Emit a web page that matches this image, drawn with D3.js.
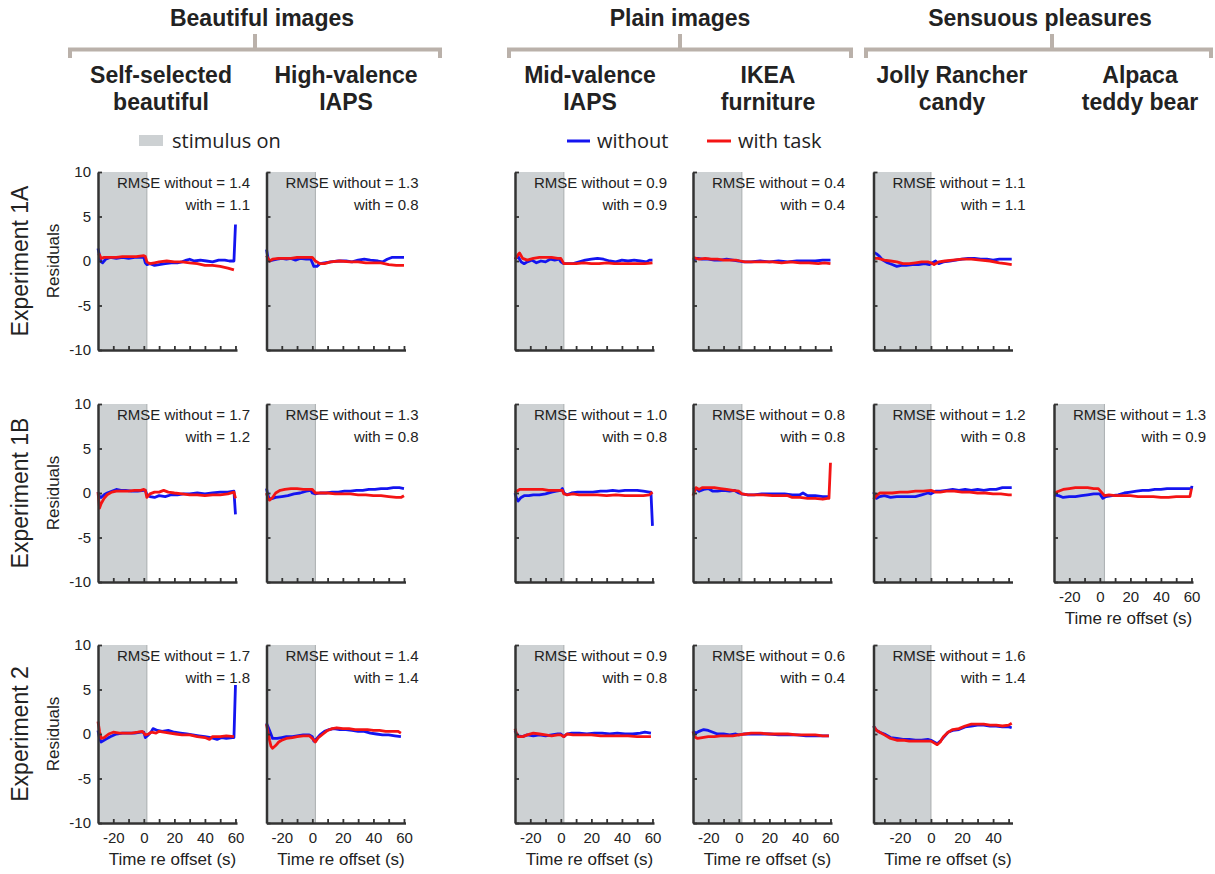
<!DOCTYPE html>
<html>
<head>
<meta charset="utf-8">
<script src="https://cdn.jsdelivr.net/npm/d3@7"></script>
<style>
  body { margin: 0; background: #fff; }
  svg { display: block; }
  text { font-family: "Liberation Sans", Arial, sans-serif; fill: #222; }
</style>
</head>
<body>
<svg id="chart" width="1215" height="874"></svg>
<script>
// Group and column labels
const groups = ["Beautiful images", "Plain images", "Sensuous pleasures"];
const columns = [
    ["Self-selected", "beautiful"],
    ["High-valence", "IAPS"],
    ["Mid-valence", "IAPS"],
    ["IKEA", "furniture"],
    ["Jolly Rancher", "candy"],
    ["Alpaca", "teddy bear"]
];
const experiments = ["Experiment 1A", "Experiment 1B", "Experiment 2"];

// Axis values
const yTicks = [-10, -5, 0, 5, 10];
const imageDomain = [-30, 61];
const candyDomain = [-37, 52.5];
const imageTickLabels = [-20, 0, 20, 40, 60];
const candyTickLabels = [-20, 0, 20, 40];
const stimulusEnd = [2, 2, 2, 2, 0, 3];   // end of the grey "stimulus on" band per column (s)

// RMSE values (row = experiment, col = stimulus type)
const rmseWithout = [[1.4, 1.3, 0.9, 0.4, 1.1, null], [1.7, 1.3, 1.0, 0.8, 1.2, 1.3], [1.7, 1.4, 0.9, 0.6, 1.6, null]];
const rmseWith    = [[1.1, 0.8, 0.9, 0.4, 1.1, null], [1.2, 0.8, 0.8, 0.8, 0.8, 0.9], [1.8, 1.4, 0.8, 0.4, 1.4, null]];

// Residual traces: [time re offset (s), residual]
// Experiment 1A
const e1a_self_without = [[-30,1.4],[-29,0.6],[-28,-0.1],[-27,-0.2],[-25,0.2],[-22,0.4],[-18,0.3],[-14,0.4],[-10,0.3],[-6,0.4],[-2,0.4],[0,0.4],[1,-0.2],[2,-0.4],[4,-0.3],[7,-0.5],[10,-0.4],[14,-0.3],[18,-0.2],[22,-0.2],[25,-0.1],[28,0.1],[30,0.2],[33,0.0],[37,0.1],[41,0.0],[45,-0.1],[49,0.1],[53,0.1],[56,0.0],[59,0.0],[60,4.1]];
const e1a_self_with = [[-30,0.8],[-29,0.7],[-28,0.3],[-26,0.4],[-22,0.4],[-18,0.4],[-14,0.5],[-10,0.5],[-5,0.5],[0,0.6],[1,0.5],[2,-0.1],[4,-0.3],[7,-0.2],[10,-0.1],[15,0.0],[20,-0.1],[25,-0.1],[30,-0.2],[35,-0.3],[40,-0.5],[45,-0.5],[50,-0.6],[55,-0.8],[59,-1.0]];
const e1a_high_without = [[-30,1.3],[-29,0.3],[-28,0.0],[-26,0.1],[-23,0.2],[-20,0.3],[-17,0.2],[-14,0.3],[-11,0.1],[-8,0.3],[-4,0.2],[-1,0.2],[0,-0.2],[1,-0.6],[3,-0.6],[5,-0.3],[8,-0.2],[12,-0.1],[17,0.0],[22,0.0],[26,-0.1],[30,0.1],[34,0.2],[38,0.1],[43,0.0],[46,-0.1],[49,0.2],[52,0.4],[56,0.4],[60,0.4]];
const e1a_high_with = [[-30,0.6],[-28,0.0],[-26,0.2],[-22,0.3],[-18,0.3],[-14,0.3],[-10,0.4],[-6,0.4],[-2,0.4],[0,0.4],[2,0.0],[5,-0.3],[8,-0.3],[12,-0.1],[18,0.0],[25,-0.1],[30,-0.1],[35,-0.2],[40,-0.2],[45,-0.2],[50,-0.4],[55,-0.5],[60,-0.5]];
const e1a_mid_without = [[-30,0.2],[-28,0.5],[-26,-0.1],[-24,-0.3],[-22,-0.1],[-19,0.1],[-16,-0.2],[-13,0.0],[-10,-0.1],[-7,0.2],[-4,0.1],[-1,0.2],[0,-0.1],[2,-0.3],[5,-0.3],[8,-0.3],[12,-0.1],[16,0.1],[20,0.2],[24,0.3],[28,0.2],[32,0.0],[36,-0.1],[40,0.1],[44,0.0],[48,0.1],[52,0.0],[56,-0.1],[58,0.1],[60,0.1]];
const e1a_mid_with = [[-30,0.2],[-28,0.7],[-27,0.9],[-25,0.3],[-22,0.1],[-18,0.3],[-14,0.4],[-10,0.4],[-6,0.4],[-2,0.3],[0,0.3],[2,-0.3],[6,-0.3],[10,-0.3],[15,-0.2],[20,-0.3],[25,-0.3],[30,-0.2],[35,-0.3],[40,-0.3],[45,-0.3],[50,-0.3],[55,-0.3],[60,-0.2]];
const e1a_ikea_without = [[-30,0.1],[-27,0.3],[-24,0.2],[-20,0.2],[-16,0.1],[-12,0.1],[-8,0.2],[-4,0.1],[0,0.0],[3,-0.1],[8,-0.1],[14,0.0],[20,-0.1],[26,0.0],[32,-0.1],[38,0.0],[44,0.0],[50,0.0],[55,0.1],[60,0.1]];
const e1a_ikea_with = [[-30,0.4],[-26,0.2],[-22,0.3],[-18,0.2],[-14,0.2],[-10,0.1],[-6,0.1],[-2,0.1],[1,0.0],[4,-0.1],[10,-0.1],[16,-0.1],[22,-0.1],[28,-0.2],[34,-0.1],[40,-0.2],[46,-0.2],[52,-0.3],[56,-0.2],[60,-0.3]];
const e1a_candy_without = [[-37,1.0],[-35,0.8],[-33,0.5],[-31,0.1],[-28,-0.2],[-25,-0.4],[-22,-0.6],[-19,-0.5],[-16,-0.5],[-12,-0.4],[-8,-0.4],[-4,-0.3],[-1,-0.4],[1,-0.2],[3,0.0],[5,-0.3],[8,-0.1],[12,0.0],[16,0.1],[20,0.2],[24,0.3],[28,0.3],[32,0.2],[36,0.2],[40,0.1],[44,0.2],[48,0.2],[52,0.2]];
const e1a_candy_with = [[-37,0.3],[-34,0.3],[-30,0.1],[-26,0.0],[-22,-0.1],[-18,-0.3],[-14,-0.3],[-10,-0.2],[-6,-0.1],[-2,-0.1],[0,-0.2],[2,-0.4],[5,-0.1],[9,0.0],[14,0.1],[20,0.2],[26,0.2],[32,0.1],[38,0.0],[44,-0.2],[48,-0.3],[52,-0.4]];

// Experiment 1B
const e1b_self_without = [[-30,0.1],[-29,-0.4],[-28,-0.5],[-26,-0.2],[-24,0.0],[-21,0.2],[-18,0.4],[-15,0.3],[-12,0.3],[-8,0.2],[-4,0.2],[0,0.3],[1,0.3],[2,-0.2],[4,-0.4],[7,-0.5],[10,-0.3],[14,-0.4],[18,-0.2],[22,-0.2],[26,-0.1],[30,-0.1],[35,0.0],[40,-0.1],[45,0.0],[50,0.1],[55,0.1],[59,0.2],[60,-2.4]];
const e1b_self_with = [[-30,0.1],[-29,-1.7],[-28,-1.2],[-26,-0.6],[-24,-0.2],[-21,0.1],[-18,0.2],[-14,0.2],[-10,0.2],[-6,0.3],[-2,0.3],[0,0.4],[1,0.3],[2,-0.5],[4,-0.1],[7,0.1],[10,0.1],[13,0.3],[16,0.1],[20,0.0],[25,-0.1],[30,-0.2],[35,-0.2],[40,-0.3],[45,-0.2],[50,-0.2],[55,-0.1],[59,0.1],[60,-0.6]];
const e1b_high_without = [[-30,0.5],[-29,-0.3],[-28,-0.7],[-26,-0.6],[-24,-0.5],[-20,-0.4],[-16,-0.3],[-12,-0.1],[-8,0.0],[-4,0.2],[-1,0.3],[0,0.0],[2,-0.1],[5,0.0],[9,0.0],[13,0.1],[17,0.1],[21,0.2],[25,0.2],[29,0.3],[33,0.3],[37,0.4],[41,0.4],[45,0.5],[49,0.5],[53,0.6],[57,0.6],[60,0.5]];
const e1b_high_with = [[-30,0.0],[-29,-0.6],[-28,-0.8],[-26,-0.5],[-24,0.0],[-21,0.3],[-18,0.4],[-14,0.5],[-10,0.5],[-6,0.4],[-2,0.4],[0,0.4],[2,0.0],[6,0.0],[10,0.0],[15,-0.1],[20,-0.1],[25,-0.1],[30,-0.2],[35,-0.2],[40,-0.3],[45,-0.3],[50,-0.4],[55,-0.5],[58,-0.5],[60,-0.3]];
const e1b_mid_without = [[-30,0.0],[-29,-0.6],[-28,-0.9],[-26,-0.5],[-24,-0.3],[-21,-0.3],[-18,-0.2],[-14,-0.2],[-10,-0.1],[-6,0.1],[-3,0.2],[0,0.3],[1,0.5],[2,0.0],[4,-0.2],[7,0.0],[11,0.1],[16,0.1],[21,0.1],[26,0.2],[30,0.2],[34,0.3],[38,0.2],[42,0.3],[46,0.3],[50,0.3],[54,0.2],[58,0.1],[59,0.1],[60,-3.7]];
const e1b_mid_with = [[-30,0.0],[-29,0.2],[-27,0.4],[-24,0.4],[-20,0.4],[-16,0.4],[-12,0.4],[-8,0.3],[-4,0.3],[0,0.3],[1,0.3],[2,-0.1],[4,-0.2],[8,-0.1],[12,-0.2],[18,-0.2],[24,-0.2],[30,-0.3],[36,-0.2],[42,-0.3],[48,-0.3],[54,-0.3],[58,-0.2],[60,0.1]];
const e1b_ikea_without = [[-30,0.4],[-28,0.5],[-26,0.2],[-23,0.4],[-20,0.5],[-17,0.2],[-14,0.2],[-10,0.3],[-6,0.2],[-3,0.3],[0,0.0],[2,-0.1],[6,-0.2],[10,-0.2],[15,-0.1],[20,-0.1],[25,-0.1],[30,-0.1],[35,-0.2],[40,-0.2],[42,0.0],[45,-0.3],[50,-0.3],[55,-0.4],[59,-0.4]];
const e1b_ikea_with = [[-30,-0.3],[-29,0.2],[-28,0.6],[-26,0.4],[-24,0.6],[-20,0.6],[-16,0.6],[-12,0.5],[-8,0.4],[-4,0.3],[0,0.2],[2,-0.1],[6,-0.2],[10,-0.2],[16,-0.2],[22,-0.3],[28,-0.3],[32,-0.3],[35,-0.5],[40,-0.5],[45,-0.6],[50,-0.6],[55,-0.7],[58,-0.6],[59,-0.6],[60,3.4]];
const e1b_candy_without = [[-37,0.1],[-35,-0.6],[-33,-0.4],[-30,-0.3],[-26,-0.5],[-22,-0.4],[-18,-0.4],[-14,-0.4],[-10,-0.4],[-6,-0.2],[-2,0.0],[0,-0.1],[3,0.2],[6,0.2],[10,0.3],[14,0.4],[18,0.3],[22,0.4],[26,0.3],[30,0.4],[34,0.3],[38,0.4],[42,0.4],[46,0.6],[50,0.6],[52,0.6]];
const e1b_candy_with = [[-37,-0.7],[-35,-0.3],[-33,0.0],[-29,0.0],[-25,0.0],[-20,0.1],[-15,0.1],[-10,0.2],[-5,0.2],[0,0.3],[3,0.1],[6,0.1],[10,0.2],[15,0.2],[20,0.1],[25,0.1],[30,0.0],[35,0.0],[40,-0.1],[45,-0.1],[50,-0.2],[52,-0.2]];
const e1b_alpaca_without = [[-30,-0.2],[-27,-0.3],[-24,-0.5],[-20,-0.4],[-16,-0.4],[-12,-0.3],[-8,-0.2],[-4,-0.1],[0,-0.1],[2,-0.6],[4,-0.4],[8,-0.3],[12,-0.2],[16,0.0],[20,0.1],[24,0.2],[28,0.3],[32,0.3],[36,0.4],[40,0.4],[44,0.5],[48,0.5],[52,0.5],[56,0.5],[60,0.5],[60.3,0.8]];
const e1b_alpaca_with = [[-30,0.0],[-27,0.2],[-24,0.4],[-20,0.5],[-16,0.6],[-12,0.6],[-8,0.6],[-4,0.5],[-1,0.5],[1,0.1],[3,-0.3],[6,-0.2],[10,-0.3],[15,-0.3],[20,-0.3],[25,-0.4],[30,-0.4],[35,-0.4],[40,-0.5],[45,-0.5],[50,-0.4],[55,-0.4],[59,-0.4],[60,0.5]];

// Experiment 2
const e2_self_without = [[-30,0.4],[-29,-0.5],[-28,-0.9],[-25,-0.6],[-22,-0.3],[-18,0.0],[-14,0.1],[-10,0.1],[-6,0.1],[-2,0.2],[0,0.2],[1,-0.4],[3,-0.1],[5,0.3],[6,0.6],[9,0.4],[12,0.3],[16,0.4],[20,0.2],[24,0.1],[28,0.0],[32,-0.1],[36,-0.2],[40,-0.3],[44,-0.4],[48,-0.6],[51,-0.4],[54,-0.5],[58,-0.4],[59,-0.4],[60,5.5]];
const e2_self_with = [[-30,1.4],[-29,0.3],[-28,-0.5],[-26,-0.4],[-23,0.0],[-20,0.2],[-16,0.1],[-12,0.1],[-8,0.1],[-4,0.2],[-1,0.3],[1,-0.1],[3,0.0],[5,0.2],[8,0.1],[10,0.3],[13,0.2],[17,0.1],[21,0.0],[25,-0.1],[30,-0.1],[35,-0.3],[40,-0.4],[43,-0.6],[45,-0.3],[50,-0.3],[54,-0.2],[59,-0.3]];
const e2_high_without = [[-30,1.2],[-29,0.8],[-28,0.4],[-26,-0.5],[-23,-0.5],[-20,-0.4],[-17,-0.3],[-13,-0.3],[-10,-0.2],[-6,-0.1],[-2,-0.1],[0,-0.3],[1,-0.8],[3,-0.5],[5,-0.1],[8,0.3],[11,0.5],[14,0.6],[18,0.5],[22,0.5],[26,0.4],[30,0.3],[34,0.3],[38,0.1],[42,0.0],[46,-0.1],[50,-0.1],[54,-0.2],[58,-0.3]];
const e2_high_with = [[-30,1.1],[-29,0.2],[-28,-0.7],[-27,-1.4],[-26,-1.6],[-24,-1.3],[-22,-0.9],[-20,-0.7],[-17,-0.5],[-13,-0.4],[-10,-0.3],[-6,-0.2],[-2,-0.2],[0,-0.5],[2,-0.9],[4,-0.4],[7,0.0],[10,0.4],[13,0.6],[16,0.7],[20,0.6],[24,0.6],[28,0.5],[32,0.5],[36,0.5],[40,0.4],[44,0.4],[48,0.3],[52,0.3],[56,0.3],[58,0.1]];
const e2_mid_without = [[-30,0.4],[-29,0.0],[-28,-0.2],[-25,-0.3],[-22,-0.1],[-18,-0.2],[-14,-0.1],[-10,-0.2],[-6,-0.1],[-2,0.0],[0,0.0],[2,-0.3],[4,0.0],[7,0.1],[12,0.1],[17,0.0],[22,0.1],[27,0.1],[32,0.0],[37,0.1],[42,0.0],[47,0.0],[52,0.1],[55,0.2],[59,0.1]];
const e2_mid_with = [[-30,0.6],[-29,0.0],[-28,-0.3],[-25,-0.3],[-22,-0.1],[-18,0.1],[-14,0.0],[-10,-0.1],[-6,-0.2],[-2,-0.1],[0,-0.1],[2,-0.3],[4,0.0],[8,-0.1],[14,-0.1],[20,-0.1],[26,-0.2],[32,-0.2],[38,-0.2],[44,-0.2],[50,-0.3],[55,-0.3],[59,-0.3]];
const e2_ikea_without = [[-30,0.3],[-28,0.1],[-26,0.3],[-23,0.5],[-20,0.4],[-17,0.2],[-14,0.0],[-10,0.0],[-6,-0.1],[-2,0.0],[0,-0.1],[3,0.0],[8,0.0],[14,0.0],[20,0.0],[26,-0.1],[32,-0.1],[38,-0.1],[44,-0.2],[50,-0.2],[55,-0.2],[59,-0.2]];
const e2_ikea_with = [[-30,0.3],[-29,-0.3],[-27,-0.5],[-24,-0.4],[-20,-0.3],[-16,-0.3],[-12,-0.2],[-8,-0.2],[-4,-0.2],[0,-0.1],[4,0.0],[8,0.1],[14,0.1],[20,0.0],[26,0.0],[32,0.0],[38,-0.1],[44,-0.1],[50,-0.1],[55,-0.2],[59,-0.2]];
const e2_candy_without = [[-37,0.9],[-35,0.4],[-33,0.2],[-30,0.0],[-26,-0.4],[-22,-0.5],[-18,-0.6],[-14,-0.6],[-10,-0.7],[-6,-0.7],[-2,-0.6],[0,-0.7],[2,-0.9],[4,-1.1],[6,-0.8],[8,-0.4],[11,0.2],[14,0.4],[18,0.5],[22,0.8],[26,0.9],[30,1.0],[34,1.0],[38,0.9],[42,0.9],[46,0.8],[50,0.8],[52,0.7]];
const e2_candy_with = [[-37,0.9],[-35,0.4],[-33,0.2],[-30,-0.1],[-26,-0.5],[-22,-0.7],[-18,-0.7],[-14,-0.8],[-10,-0.8],[-6,-0.8],[-2,-0.8],[0,-0.8],[2,-1.0],[4,-1.2],[6,-0.9],[8,-0.3],[11,0.2],[14,0.5],[18,0.6],[22,0.9],[26,1.1],[30,1.1],[34,1.1],[38,1.0],[42,1.0],[46,0.9],[50,1.0],[52,1.2]];

// Which panels exist and their traces
const panels = [
    { row: 0, col: 0, without: e1a_self_without,  withTask: e1a_self_with },
    { row: 0, col: 1, without: e1a_high_without,  withTask: e1a_high_with },
    { row: 0, col: 2, without: e1a_mid_without,   withTask: e1a_mid_with },
    { row: 0, col: 3, without: e1a_ikea_without,  withTask: e1a_ikea_with },
    { row: 0, col: 4, without: e1a_candy_without, withTask: e1a_candy_with },
    { row: 1, col: 0, without: e1b_self_without,  withTask: e1b_self_with },
    { row: 1, col: 1, without: e1b_high_without,  withTask: e1b_high_with },
    { row: 1, col: 2, without: e1b_mid_without,   withTask: e1b_mid_with },
    { row: 1, col: 3, without: e1b_ikea_without,  withTask: e1b_ikea_with },
    { row: 1, col: 4, without: e1b_candy_without, withTask: e1b_candy_with },
    { row: 1, col: 5, without: e1b_alpaca_without, withTask: e1b_alpaca_with, xLabels: true },
    { row: 2, col: 0, without: e2_self_without,   withTask: e2_self_with,  xLabels: true },
    { row: 2, col: 1, without: e2_high_without,   withTask: e2_high_with,  xLabels: true },
    { row: 2, col: 2, without: e2_mid_without,    withTask: e2_mid_with,   xLabels: true },
    { row: 2, col: 3, without: e2_ikea_without,   withTask: e2_ikea_with,  xLabels: true },
    { row: 2, col: 4, without: e2_candy_without,  withTask: e2_candy_with, xLabels: true }
];

// Layout
const colLeft = [98, 266.5, 515, 693, 873.5, 1054];
const rowTop = [172, 404, 645];
const panelW = 139, panelH = 178;
const headerX = [161, 346, 590, 768, 952, 1140];
const groupX = [262, 680, 1040];
const brackets = [[70, 440, 255], [509, 851, 680], [866, 1211, 1052]];

const blue = "#1414f0", red = "#f41414", shade = "#cdd1d3";

const svg = d3.select("#chart");

// Group headers with brackets
groups.forEach((name, i) => {
    svg.append("text")
        .attr("x", groupX[i]).attr("y", 26)
        .attr("text-anchor", "middle")
        .style("font-weight", "bold").style("font-size", "23px")
        .text(name);
    const b = brackets[i];
    svg.append("path")
        .attr("d", `M${b[0]},58 V49.5 H${b[1]} V58 M${b[2]},49.5 V34`)
        .attr("fill", "none")
        .attr("stroke", "#bab1aa")
        .attr("stroke-width", 4);
});

// Column headers
columns.forEach((lines, i) => {
    lines.forEach((s, j) => {
        svg.append("text")
            .attr("x", headerX[i]).attr("y", 83 + j * 27)
            .attr("text-anchor", "middle")
            .style("font-weight", "bold").style("font-size", "23px")
            .text(s);
    });
});

// Legend
const legend = svg.append("g").style("font-family", "'Open Sans', sans-serif");
legend.append("rect").attr("x", 139).attr("y", 135).attr("width", 24).attr("height", 11).attr("fill", shade);
legend.append("text").attr("x", 172).attr("y", 148).style("font-size", "20px").style("font-family", "'Open Sans', sans-serif").text("stimulus on");
legend.append("line").attr("x1", 567).attr("x2", 590).attr("y1", 141).attr("y2", 141).attr("stroke", blue).attr("stroke-width", 3);
legend.append("text").attr("x", 597).attr("y", 148).style("font-size", "20px").style("font-family", "'Open Sans', sans-serif").text("without");
legend.append("line").attr("x1", 707).attr("x2", 731).attr("y1", 141).attr("y2", 141).attr("stroke", red).attr("stroke-width", 3);
legend.append("text").attr("x", 738).attr("y", 148).style("font-size", "20px").style("font-family", "'Open Sans', sans-serif").text("with task");

// Row labels
experiments.forEach((name, r) => {
    const cy = rowTop[r] + panelH / 2;
    svg.append("text")
        .attr("transform", `translate(28,${cy}) rotate(-90)`)
        .attr("text-anchor", "middle")
        .style("font-size", "23px")
        .text(name);
    svg.append("text")
        .attr("transform", `translate(59,${cy}) rotate(-90)`)
        .attr("text-anchor", "middle")
        .style("font-size", "17px")
        .text("Residuals");
});

// Panels
panels.forEach(p => {
    const isCandy = p.col === 4;
    const x = d3.scaleLinear().domain(isCandy ? candyDomain : imageDomain).range([0, panelW]);
    const y = d3.scaleLinear().domain([-10, 10]).range([panelH, 0]);
    const g = svg.append("g").attr("transform", `translate(${colLeft[p.col]},${rowTop[p.row]})`);

    // stimulus band
    const xs = x(stimulusEnd[p.col]);
    g.append("rect").attr("x", 0).attr("y", 0).attr("width", xs).attr("height", panelH).attr("fill", shade);
    g.append("line").attr("x1", xs).attr("x2", xs).attr("y1", 0).attr("y2", panelH)
        .attr("stroke", "#a9adaf").attr("stroke-width", 1);

    // traces
    const line = d3.line().x(d => x(d[0])).y(d => y(d[1]));
    g.append("path").datum(p.without).attr("d", line)
        .attr("fill", "none").attr("stroke", blue).attr("stroke-width", 2.8).attr("stroke-linejoin", "round");
    g.append("path").datum(p.withTask).attr("d", line)
        .attr("fill", "none").attr("stroke", red).attr("stroke-width", 2.8).attr("stroke-linejoin", "round");

    // axes
    const labelSet = new Set(isCandy ? candyTickLabels : imageTickLabels);
    const xTickVals = isCandy ? d3.range(-30, 51, 10) : d3.range(-20, 61, 10);
    const xAxis = d3.axisBottom(x)
        .tickValues(xTickVals)
        .tickSizeInner(-4).tickSizeOuter(0).tickPadding(9)
        .tickFormat(d => (p.xLabels && labelSet.has(d)) ? String(d) : "");
    const yAxis = d3.axisLeft(y)
        .tickValues(yTicks)
        .tickSizeInner(-4).tickSizeOuter(0).tickPadding(7)
        .tickFormat(d => p.col === 0 ? String(d) : "");

    const gx = g.append("g").attr("transform", `translate(0,${panelH})`).call(xAxis);
    const gy = g.append("g").call(yAxis);
    [gx, gy].forEach(a => {
        a.select(".domain").attr("stroke", "#333").attr("stroke-width", 2.5);
        a.selectAll(".tick line").attr("stroke", "#333").attr("stroke-width", 1.8);
        a.selectAll(".tick text")
            .style("font-family", "'Liberation Sans', Arial, sans-serif")
            .style("font-size", "15px").attr("fill", "#222");
    });

    if (p.xLabels) {
        g.append("text")
            .attr("x", panelW / 2 + 5).attr("y", panelH + 42)
            .attr("text-anchor", "middle")
            .style("font-size", "17px")
            .text("Time re offset (s)");
    }

    // RMSE annotation
    g.append("text")
        .attr("x", panelW + 13).attr("y", 16)
        .attr("text-anchor", "end")
        .style("font-size", "15px").attr("fill", "#333")
        .text(`RMSE without = ${rmseWithout[p.row][p.col].toFixed(1)}`);
    g.append("text")
        .attr("x", panelW + 13).attr("y", 38)
        .attr("text-anchor", "end")
        .style("font-size", "15px").attr("fill", "#333")
        .text(`with = ${rmseWith[p.row][p.col].toFixed(1)}`);
});
</script>
</body>
</html>
